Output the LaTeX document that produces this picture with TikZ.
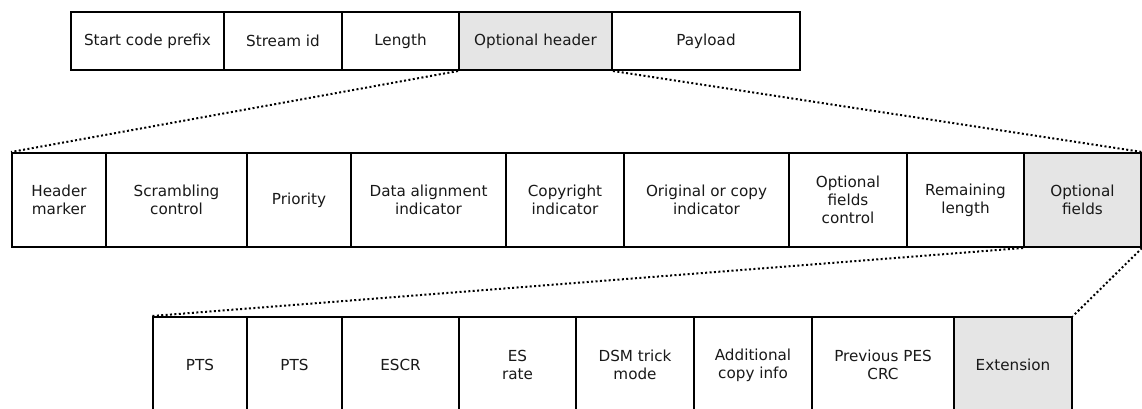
\documentclass[tikz,border=0pt]{standalone}
\usepackage{fontspec}
\setmainfont{DejaVu Sans}
\definecolor{cellgray}{HTML}{E5E5E5}
\tikzset{
  cell/.style={draw=black, line width=2pt, fill=white, inner sep=0pt, align=center,
    font=\fontsize{15.2}{18}\selectfont, text=black!90},
  hl/.style={fill=cellgray},
  zoomline/.style={line width=2pt, dash pattern=on 2pt off 2.4pt, black}
}
\begin{document}
\begin{tikzpicture}[x=1pt,y=-1pt]
\useasboundingbox (0,0) rectangle (1142,408);
\clip (0,0) rectangle (1142,408);
% top row
\node[cell, minimum width=153, minimum height=58] (scp) at (147.5,41) {Start code prefix};
\node[cell, minimum width=118, minimum height=58] (sid) at (283,41) {Stream id};
\node[cell, minimum width=117, minimum height=58] (len) at (400.5,41) {Length};
\node[cell, hl, minimum width=153, minimum height=58] (oh) at (535.5,41) {Optional header};
\node[cell, minimum width=188, minimum height=58] (pl) at (706,41) {Payload};
% middle row
\node[cell, minimum width=94, minimum height=94] (hm) at (59,200) {Header\\marker};
\node[cell, minimum width=141, minimum height=94] (sc) at (176.5,200) {Scrambling\\control};
\node[cell, minimum width=104, minimum height=94] (pr) at (299,200) {Priority};
\node[cell, minimum width=155, minimum height=94] (dai) at (428.5,200) {Data alignment\\indicator};
\node[cell, minimum width=118, minimum height=94] (ci) at (565,200) {Copyright\\indicator};
\node[cell, minimum width=165, minimum height=94] (oci) at (706.5,200) {Original or copy\\indicator};
\node[cell, minimum width=118, minimum height=94] (ofc) at (848,200) {Optional\\fields\\control};
\node[cell, minimum width=117, minimum height=94] (rl) at (965.5,200) {Remaining\\length};
\node[cell, hl, minimum width=117, minimum height=94] (of) at (1082.5,200) {Optional\\fields};
% bottom row
\node[cell, minimum width=94, minimum height=96] (pts1) at (200,365) {PTS};
\node[cell, minimum width=95, minimum height=96] (pts2) at (294.5,365) {PTS};
\node[cell, minimum width=117, minimum height=96] (escr) at (400.5,365) {ESCR};
\node[cell, minimum width=117, minimum height=96] (esr) at (517.5,365) {ES\\rate};
\node[cell, minimum width=118, minimum height=96] (dsm) at (635,365) {DSM trick\\mode};
\node[cell, minimum width=118, minimum height=96] (aci) at (753,365) {Additional\\copy info};
\node[cell, minimum width=142, minimum height=96] (crc) at (883,365) {Previous PES\\CRC};
\node[cell, hl, minimum width=118, minimum height=96] (ext) at (1013,365) {Extension};
% zoom lines
\draw[zoomline] (oh.south west) -- (hm.north west);
\draw[zoomline] (oh.south east) -- (of.north east);
\draw[zoomline] (of.south west) -- (pts1.north west);
\draw[zoomline] (of.south east) -- (ext.north east);
\end{tikzpicture}
\end{document}
